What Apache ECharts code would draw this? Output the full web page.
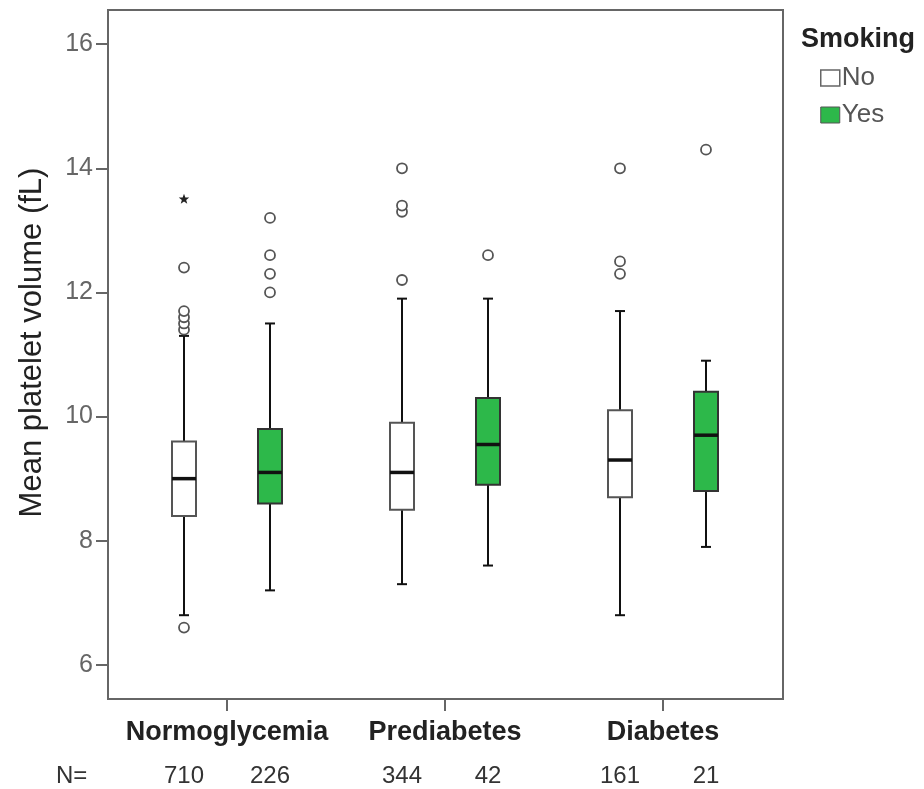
<!DOCTYPE html>
<html><head><meta charset="utf-8">
<script src="https://cdn.jsdelivr.net/npm/echarts@6/dist/echarts.min.js"></script>
<style>html,body{margin:0;padding:0;background:#fff}#c{width:924px;height:789px}</style>
</head><body><div id="c"></div>
<script>
const categories = ['Normoglycemia', 'Prediabetes', 'Diabetes'];
const groupNames = ['No', 'Yes'];
// [min (lower whisker), Q1, median, Q3, max (upper whisker)]
const noBoxes  = [[6.8, 8.4, 9.0, 9.6, 11.3], [7.3, 8.5, 9.1, 9.9, 11.9], [6.8, 8.7, 9.3, 10.1, 11.7]];
const yesBoxes = [[7.2, 8.6, 9.1, 9.8, 11.5], [7.6, 8.9, 9.55, 10.3, 11.9], [7.9, 8.8, 9.7, 10.4, 10.9]];
const noOutliers  = [[6.6, 11.4, 11.5, 11.6, 11.7, 12.4], [12.2, 13.3, 13.4, 14.0], [12.3, 12.5, 14.0]];
const yesOutliers = [[12.0, 12.3, 12.6, 13.2], [12.6], [14.3]];
const noExtremes  = [[13.5], [], []];
const yesExtremes = [[], [], []];
const noCounts  = [710, 344, 161];
const yesCounts = [226, 42, 21];
const yTicks = [6, 8, 10, 12, 14, 16];
const yMin = 5.45, yMax = 16.55;

const FONT = 'Liberation Sans, Arial, sans-serif';
const GREEN = '#2db84a';
const OFFSET = 43;

function boxData(boxes, counts) {
  return boxes.map((b, i) => [i, b[0], b[1], b[2], b[3], b[4], counts[i]]);
}
function pointData(list, kind) {
  const out = [];
  list.forEach((vals, i) => vals.forEach(v => out.push([i, v, kind])));
  return out;
}

function boxRenderer(offset, fill, stroke) {
  return function (params, api) {
    const i = api.value(0);
    const pMin = api.coord([i, api.value(1)]);
    const x = pMin[0] + offset;
    const yLo = pMin[1];
    const yQ1 = api.coord([i, api.value(2)])[1];
    const yMed = api.coord([i, api.value(3)])[1];
    const yQ3 = api.coord([i, api.value(4)])[1];
    const yHi = api.coord([i, api.value(5)])[1];
    const yBase = api.coord([i, yMin])[1];
    const w = 24, cap = 5;
    const ls = { stroke: '#111', lineWidth: 2 };
    return {
      type: 'group',
      children: [
        { type: 'line', shape: { x1: x, y1: yHi, x2: x, y2: yQ3 }, style: ls },
        { type: 'line', shape: { x1: x, y1: yLo, x2: x, y2: yQ1 }, style: ls },
        { type: 'line', shape: { x1: x - cap, y1: yHi, x2: x + cap, y2: yHi }, style: ls },
        { type: 'line', shape: { x1: x - cap, y1: yLo, x2: x + cap, y2: yLo }, style: ls },
        { type: 'rect', shape: { x: x - w / 2, y: yQ3, width: w, height: yQ1 - yQ3 },
          style: { fill: fill, stroke: stroke, lineWidth: 2 } },
        { type: 'line', shape: { x1: x - w / 2, y1: yMed, x2: x + w / 2, y2: yMed },
          style: { stroke: '#111', lineWidth: 3.5 } },
        { type: 'text', x: x, y: yBase + 77,
          style: { text: String(api.value(6)), fontSize: 24, fontFamily: FONT, fill: '#333',
                   align: 'center', verticalAlign: 'middle' } }
      ]
    };
  };
}

function pointRenderer(offset) {
  return function (params, api) {
    const p = api.coord([api.value(0), api.value(1)]);
    const x = p[0] + offset, y = p[1];
    if (api.value(2) === 1) {
      const pts = [];
      for (let k = 0; k < 10; k++) {
        const r = k % 2 === 0 ? 5.5 : 2.3;
        const a = -Math.PI / 2 + k * Math.PI / 5;
        pts.push([x + r * Math.cos(a), y + r * Math.sin(a)]);
      }
      return { type: 'polygon', shape: { points: pts }, style: { fill: '#222' } };
    }
    return { type: 'circle', shape: { cx: x, cy: y, r: 5 },
             style: { fill: '#fff', stroke: '#555', lineWidth: 1.8 } };
  };
}

const chart = echarts.init(document.getElementById('c'), null, { renderer: 'canvas' });
chart.setOption({
  backgroundColor: '#fff',
  animation: false,
  title: {
    text: 'Smoking', left: 796, top: 21,
    textStyle: { fontSize: 27, fontWeight: 'bold', fontFamily: FONT, color: '#222' }
  },
  legend: {
    orient: 'vertical', left: 815, top: 58,
    icon: 'rect', itemWidth: 19, itemHeight: 16, itemGap: 7,
    textStyle: { fontSize: 26, fontFamily: FONT, color: '#555', lineHeight: 26, padding: [4, 0, 0, -3] },
    data: [
      { name: groupNames[0], itemStyle: { color: '#fff', borderColor: '#666', borderWidth: 1.5 } },
      { name: groupNames[1], itemStyle: { color: GREEN, borderColor: '#555', borderWidth: 1 } }
    ]
  },
  graphic: [
    { type: 'text', left: 56, top: 764, style: { text: 'N=', fontSize: 24, fontFamily: FONT, fill: '#333' } }
  ],
  grid: [
    { left: 108, top: 10, width: 675, height: 689, show: true, borderColor: '#666', borderWidth: 2,
      backgroundColor: 'transparent' },
    { left: 118, top: 10, width: 654, height: 689 }
  ],
  xAxis: [
    { gridIndex: 0, type: 'value', show: false },
    {
      gridIndex: 1, type: 'category', data: categories,
      axisLine: { show: false },
      axisTick: { show: true, interval: 0, alignWithLabel: true, length: 12, lineStyle: { color: '#666', width: 2 } },
      axisLabel: { interval: 0, hideOverlap: false, fontSize: 27, fontWeight: 'bold', fontFamily: FONT, color: '#222', margin: 20 }
    }
  ],
  yAxis: [
    { gridIndex: 0, type: 'value', show: false },
    {
      gridIndex: 1, type: 'value', min: yMin, max: yMax, offset: 10,
      axisLine: { show: false },
      splitLine: { show: false },
      axisTick: { show: true, length: 12, customValues: yTicks, lineStyle: { color: '#666', width: 2 } },
      axisLabel: { customValues: yTicks, fontSize: 25, fontFamily: FONT, color: '#666', margin: 15 },
      name: 'Mean platelet volume (fL)', nameLocation: 'middle', nameGap: 60,
      nameTextStyle: { fontSize: 31, fontFamily: FONT, color: '#222', padding: [0, 0, 0, 24] }
    }
  ],
  series: [
    { name: groupNames[0], type: 'custom', xAxisIndex: 1, yAxisIndex: 1,
      itemStyle: { color: '#fff', borderColor: '#666' },
      encode: { x: 0, y: [1, 2, 3, 4, 5] },
      renderItem: boxRenderer(-OFFSET, '#fff', '#555'), data: boxData(noBoxes, noCounts) },
    { name: groupNames[1], type: 'custom', xAxisIndex: 1, yAxisIndex: 1,
      itemStyle: { color: GREEN },
      encode: { x: 0, y: [1, 2, 3, 4, 5] },
      renderItem: boxRenderer(OFFSET, GREEN, '#333'), data: boxData(yesBoxes, yesCounts) },
    { name: 'No points', type: 'custom', xAxisIndex: 1, yAxisIndex: 1,
      encode: { x: 0, y: 1 }, renderItem: pointRenderer(-OFFSET),
      data: pointData(noOutliers, 0).concat(pointData(noExtremes, 1)) },
    { name: 'Yes points', type: 'custom', xAxisIndex: 1, yAxisIndex: 1,
      encode: { x: 0, y: 1 }, renderItem: pointRenderer(OFFSET),
      data: pointData(yesOutliers, 0).concat(pointData(yesExtremes, 1)) }
  ]
});
</script>
</body></html>
